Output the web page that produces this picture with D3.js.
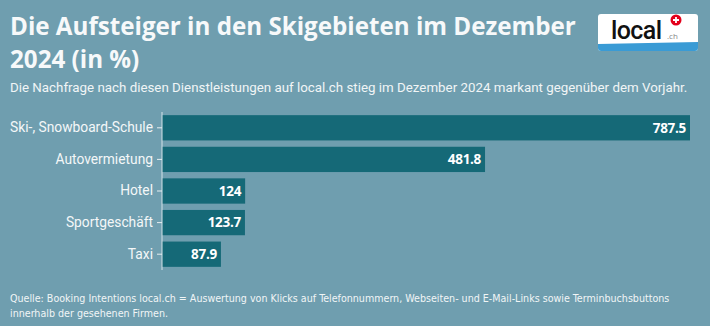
<!DOCTYPE html>
<html><head><meta charset="utf-8">
<script src="https://cdn.jsdelivr.net/npm/d3@7"></script>
<style>
html,body{margin:0;padding:0;background:#6f9eaf;}
svg{display:block;}
</style></head><body>
<script>
const categories = ["Ski-, Snowboard-Schule","Autovermietung","Hotel","Sportgeschäft","Taxi"];
const values = [787.5, 481.8, 124, 123.7, 87.9];
const valueLabels = ["787.5","481.8","124","123.7","87.9"];
const titleLines = ["Die Aufsteiger in den Skigebieten im Dezember","2024 (in %)"];
const subtitle = "Die Nachfrage nach diesen Dienstleistungen auf local.ch stieg im Dezember 2024 markant gegenüber dem Vorjahr.";
const footerLines = ["Quelle: Booking Intentions local.ch = Auswertung von Klicks auf Telefonnummern, Webseiten- und E-Mail-Links sowie Terminbuchsbuttons","innerhalb der gesehenen Firmen."];

const W = 710, H = 326;
const svg = d3.select("body").append("svg").attr("width", W).attr("height", H);
svg.append("rect").attr("width", W).attr("height", H).attr("fill", "#6f9eaf");

// scale the font size so that the text's natural width matches the target width
function fitSize(sel, w){
  const s = +sel.attr("font-size");
  const l = sel.node().getComputedTextLength();
  if (l > 0) sel.attr("font-size", (s * w / l).toFixed(2));
}

const SANS = "'Open Sans', sans-serif";
const BODY = "Roboto, 'Open Sans', sans-serif";
const t1 = svg.append("text").attr("x", 10).attr("y", 35).attr("fill", "#f7f9fa")
  .attr("font-family", SANS).attr("font-weight", 700).attr("font-size", 24).text(titleLines[0]);
fitSize(t1, 566);
const t2 = svg.append("text").attr("x", 10).attr("y", 68).attr("fill", "#f7f9fa")
  .attr("font-family", SANS).attr("font-weight", 700).attr("font-size", t1.attr("font-size")).text(titleLines[1]);
const st = svg.append("text").attr("x", 10).attr("y", 92).attr("fill", "#f1f5f6")
  .attr("font-family", BODY).attr("font-size", 14).text(subtitle);
fitSize(st, 678);

// Logo
const logo = svg.append("g");
logo.append("rect").attr("x", 598).attr("y", 14).attr("width", 100).attr("height", 37).attr("rx", 3).attr("fill", "#ffffff");
logo.append("path").attr("d", "M598,44 L698,42 L698,48 Q698,51 695,51 L601,51 Q598,51 598,48 Z").attr("fill", "#3a9bd5");
logo.append("text").attr("x", 611).attr("y", 39).attr("fill", "#111").attr("font-family", BODY)
  .attr("font-weight", 500).attr("font-size", 25).attr("letter-spacing", -0.6).text("local");
logo.append("text").attr("x", 667).attr("y", 39).attr("fill", "#888").attr("font-family", SANS)
  .attr("font-size", 8).text(".ch");
logo.append("circle").attr("cx", 676).attr("cy", 20).attr("r", 5.5).attr("fill", "#e3001b");
logo.append("path").attr("d", "M676,17 V23 M673,20 H679").attr("stroke", "#fff").attr("stroke-width", 1.8);

// Chart
const x = d3.scaleLinear().domain([0, d3.max(values)]).range([162, 690]);
const y = d3.scaleBand().domain(categories).range([112, 270]).paddingInner(0.2).paddingOuter(0.1);

svg.selectAll("rect.bar").data(categories).enter().append("rect").attr("class", "bar")
  .attr("x", x(0)).attr("y", d => y(d)).attr("width", (d, i) => x(values[i]) - x(0))
  .attr("height", y.bandwidth()).attr("fill", "#156977");

const yAxis = svg.append("g").attr("transform", `translate(${x(0)},0)`)
  .call(d3.axisLeft(y).tickSize(5).tickPadding(4));
yAxis.select(".domain").attr("stroke", "#d4e3e8").attr("d", "M0,112V270");
yAxis.selectAll(".tick line").attr("stroke", "#e6eef1");
yAxis.selectAll(".tick text").attr("fill", "#f4f7f8").attr("font-size", 14)
  .attr("font-family", BODY);
// size labels so that the longest one starts at x=10
const longest = yAxis.selectAll(".tick text").filter(d => d === categories[0]);
const lw = longest.node().getComputedTextLength();
yAxis.selectAll(".tick text").attr("font-size", (14 * 143 / lw).toFixed(2));

svg.selectAll("text.val").data(categories).enter().append("text").attr("class", "val")
  .attr("x", (d, i) => x(values[i]) - 4).attr("y", d => y(d) + y.bandwidth() / 2).attr("dy", "0.35em")
  .attr("text-anchor", "end").attr("fill", "#ffffff").attr("font-weight", 700).attr("font-size", 13.5)
  .attr("font-family", SANS).attr("letter-spacing", -0.3).text((d, i) => valueLabels[i]);

// Footer (condensed face)
const FOOT = "'Liberation Sans Narrow', 'DejaVu Sans Condensed', 'Roboto', sans-serif";
const f1 = svg.append("text").attr("x", 10).attr("y", 302).attr("fill", "#f1f5f6")
  .attr("font-family", FOOT).attr("font-size", 12).text(footerLines[0]);
fitSize(f1, 660);
const f2 = svg.append("text").attr("x", 10).attr("y", 317).attr("fill", "#f1f5f6")
  .attr("font-family", FOOT).attr("font-size", f1.attr("font-size")).text(footerLines[1]);
</script>
</body></html>
